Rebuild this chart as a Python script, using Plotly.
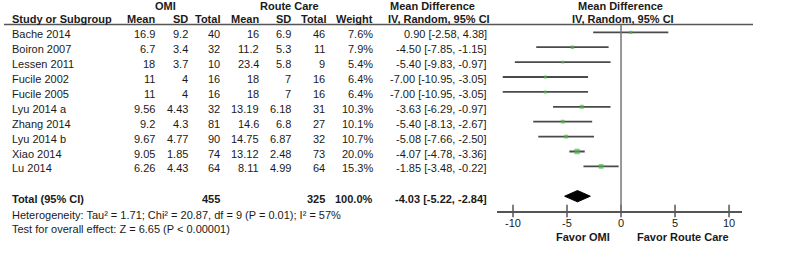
import plotly.graph_objects as go

studies = ["Bache 2014", "Boiron 2007", "Lessen 2011", "Fucile 2002", "Fucile 2005",
           "Lyu 2014 a", "Zhang 2014", "Lyu 2014 b", "Xiao 2014", "Lu 2014"]
omi_mean = ["16.9", "6.7", "18", "11", "11", "9.56", "9.2", "9.67", "9.05", "6.26"]
omi_sd = ["9.2", "3.4", "3.7", "4", "4", "4.43", "4.3", "4.77", "1.85", "4.43"]
omi_total = [40, 32, 10, 16, 16, 32, 81, 90, 74, 64]
rc_mean = ["16", "11.2", "23.4", "18", "18", "13.19", "14.6", "14.75", "13.12", "8.11"]
rc_sd = ["6.9", "5.3", "5.8", "7", "7", "6.18", "6.8", "6.87", "2.48", "4.99"]
rc_total = [46, 11, 9, 16, 16, 31, 27, 32, 73, 64]
weight = [7.6, 7.9, 5.4, 6.4, 6.4, 10.3, 10.1, 10.7, 20.0, 15.3]
md = [0.90, -4.50, -5.40, -7.00, -7.00, -3.63, -5.40, -5.08, -4.07, -1.85]
lo = [-2.58, -7.85, -9.83, -10.95, -10.95, -6.29, -8.13, -7.66, -4.78, -3.48]
hi = [4.38, -1.15, -0.97, -3.05, -3.05, -0.97, -2.67, -2.50, -3.36, -0.22]
total_md, total_lo, total_hi = -4.03, -5.22, -2.84
total_omi, total_rc, total_weight = 455, 325, "100.0%"
ticks = [-10, -5, 0, 5, 10]
het_text = "Heterogeneity: Tau² = 1.71; Chi² = 20.87, df = 9 (P = 0.01); I² = 57%"
test_text = "Test for overall effect: Z = 6.65 (P < 0.00001)"

W, H = 800, 259
FONT = "Liberation Sans, Arial, sans-serif"
TXT = "#1a1a1a"
FS = 11

def px(xr):
    return xr / W

def py(yr):
    return 1 - yr / H

rows = list(range(len(studies)))
total_row = len(studies) + 1

ROW0, ROWH = 32.3, 14.9          # pixel of first row and row pitch
AXIS_PX = 211.0
axis_row = (AXIS_PX - ROW0) / ROWH
top_row = (0 - ROW0) / ROWH
hdr_line_row = (24.6 - ROW0) / ROWH

fig = go.Figure()

xs, ys = [], []
for r, a, b in zip(rows, lo, hi):
    xs += [a, b, None]
    ys += [r, r, None]
fig.add_trace(go.Scatter(x=xs, y=ys, mode="lines", line=dict(color="#4a4a4a", width=1.8),
                         hoverinfo="skip", showlegend=False))
fig.add_trace(go.Scatter(x=md, y=rows, mode="markers",
                         marker=dict(symbol="square", color="#49b649",
                                     size=[1.2 * w ** 0.5 for w in weight], line=dict(width=0)),
                         hoverinfo="skip", showlegend=False))
dh = 0.38
fig.add_trace(go.Scatter(x=[total_lo, total_md, total_hi, total_md, total_lo],
                         y=[total_row, total_row - dh, total_row, total_row + dh, total_row],
                         mode="lines", fill="toself", fillcolor="#000000",
                         line=dict(color="#000000", width=1), hoverinfo="skip", showlegend=False))
# crossing tick marks on the axis line
fig.add_trace(go.Scatter(x=ticks, y=[axis_row] * len(ticks), mode="markers", cliponaxis=False,
                         marker=dict(symbol="line-ns", size=9, line=dict(color="#555555", width=1.5)),
                         hoverinfo="skip", showlegend=False))

fig.add_shape(type="line", xref="paper", yref="y", x0=px(4), x1=px(753), y0=hdr_line_row, y1=hdr_line_row,
              line=dict(color="#555555", width=1.5))
fig.add_shape(type="line", xref="x", yref="y", x0=0, x1=0, y0=hdr_line_row, y1=axis_row,
              line=dict(color="#777777", width=1.5))

ann = []
def T(x, y, text, anchor="left", bold=False, yshift=-2, yref="y"):
    ann.append(dict(x=px(x), y=y, xref="paper", yref=yref,
                    text=("<b>%s</b>" % text) if bold else text,
                    xanchor=anchor, yanchor="middle", showarrow=False, yshift=yshift,
                    font=dict(family=FONT, size=FS, color=TXT)))

def TP(x, yr, text, anchor="left", bold=False):
    T(x, py(yr), text, anchor, bold, yshift=0, yref="paper")

TP(165, 6, "OMI", "center", True)
TP(289, 6, "Route Care", "center", True)
TP(432, 6, "Mean Difference", "center", True)
TP(620.5, 6, "Mean Difference", "center", True)
TP(10, 19.5, "Study or Subgroup", "left", True)
for xx, lab in [(157, "Mean"), (190, "SD"), (222, "Total"), (261, "Mean"), (293, "SD"),
                (328, "Total"), (375, "Weight")]:
    TP(xx, 19.5, lab, "right", True)
TP(439, 19.5, "IV, Random, 95% CI", "center", True)
TP(623, 19.5, "IV, Random, 95% CI", "center", True)

for r in rows:
    T(10, r, studies[r])
    T(157, r, omi_mean[r], "right")
    T(190, r, omi_sd[r], "right")
    T(222, r, str(omi_total[r]), "right")
    T(261, r, rc_mean[r], "right")
    T(293, r, rc_sd[r], "right")
    T(327, r, str(rc_total[r]), "right")
    T(375, r, "%.1f%%" % weight[r], "right")
    T(489, r, "%.2f [%.2f, %.2f]" % (md[r], lo[r], hi[r]), "right")

T(10, total_row, "Total (95% CI)", "left", True, yshift=-3)
T(222, total_row, str(total_omi), "right", True, yshift=-3)
T(327, total_row, str(total_rc), "right", True, yshift=-3)
T(375, total_row, total_weight, "right", True, yshift=-3)
T(489, total_row, "%.2f [%.2f, %.2f]" % (total_md, total_lo, total_hi), "right", True, yshift=-3)
TP(10, 214.5, het_text, "left")
TP(10, 228.5, test_text, "left")
TP(583, 237, "Favor OMI", "center", True)
TP(683, 237, "Favor Route Care", "center", True)

fig.update_layout(
    width=W, height=H, margin=dict(l=0, r=0, t=0, b=0),
    paper_bgcolor="white", plot_bgcolor="white",
    annotations=ann,
    xaxis=dict(domain=[px(496.8), px(742)], range=[-11.5, 11.2], tickvals=ticks,
               ticktext=[str(t) for t in ticks], showgrid=False, zeroline=False,
               showline=True, linecolor="#555555", linewidth=1.5, ticks="",
               tickfont=dict(family=FONT, size=FS, color=TXT), ticklabelstandoff=1),
    yaxis=dict(domain=[py(AXIS_PX), 1], range=[axis_row, top_row], visible=False,
               showgrid=False, zeroline=False),
    showlegend=False,
)
fig.write_html("out.html", config={"displayModeBar": False},
               post_script="document.body.style.margin='0px';")
